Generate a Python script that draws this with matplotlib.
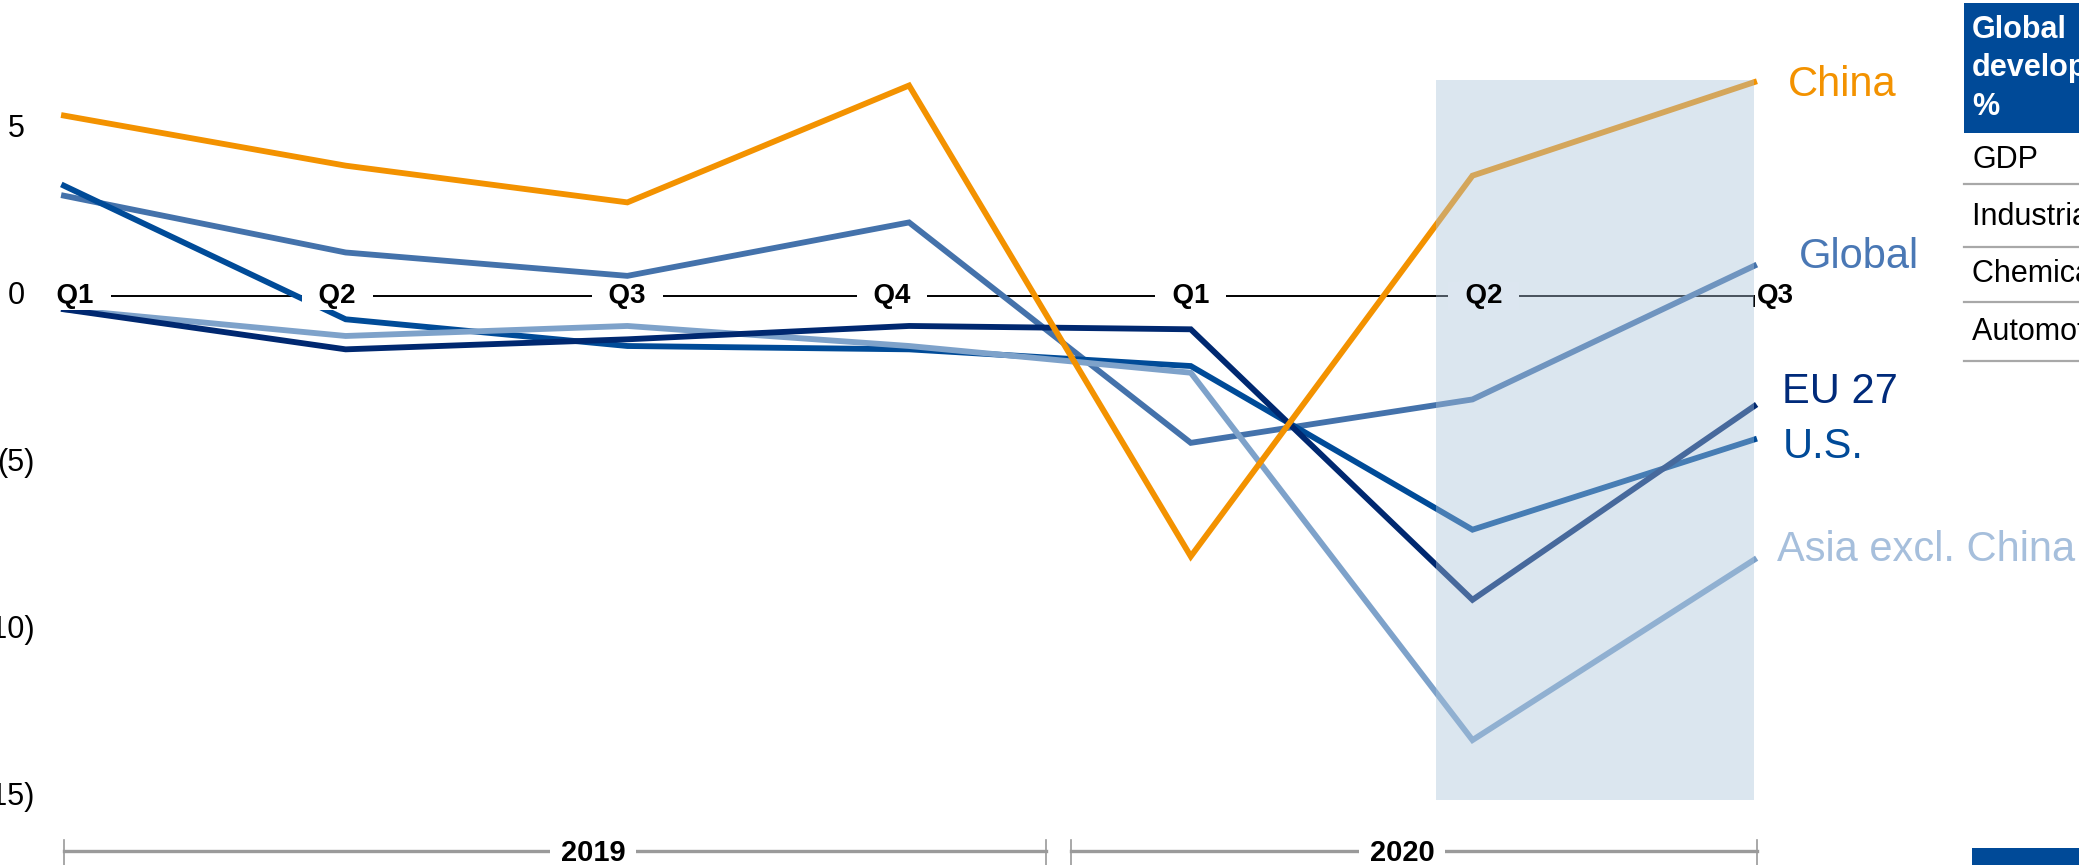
import matplotlib.pyplot as plt
from matplotlib.patches import Rectangle
import numpy as np

plt.rcParams["font.family"] = ["Liberation Sans", "DejaVu Sans"]

# data (growth vs. previous year, %)
quarters = ["Q1", "Q2", "Q3", "Q4", "Q1", "Q2", "Q3"]
years = ["2019", "2020"]
china = [5.4, 3.9, 2.8, 6.3, -7.8, 3.6, 6.4]
global_ = [3.0, 1.3, 0.6, 2.2, -4.4, -3.1, 0.9]
eu27 = [-0.4, -1.6, -1.3, -0.9, -1.0, -9.1, -3.3]
us = [3.3, -0.7, -1.5, -1.6, -2.1, -7.0, -4.3]
asia = [-0.4, -1.2, -0.9, -1.5, -2.3, -13.3, -7.9]
yticks = [5, 0, -5, -10, -15]
ytick_labels = ["5", "0", "(5)", "(10)", "(15)"]
table_rows = ["GDP", "Industrial production", "Chemical production", "Automotive production"]

W, H = 2079, 865
fig = plt.figure(figsize=(W / 100, H / 100), dpi=100)
ax = fig.add_axes([0, 0, 1, 1])
ax.axis("off")
ax.set_xlim(-0.227, 7.153)
ax.set_ylim(-17.04, 8.86)

x = np.arange(len(quarters))

# lines
series = [
    (global_, "#4472ab"),
    (us, "#004b98"),
    (asia, "#7ea2ca"),
    (eu27, "#002870"),
    (china, "#f39200"),
]
for vals, col in series:
    ax.plot(x, vals, color=col, lw=4.2, solid_joinstyle="miter", zorder=3)

# zero axis line
ax.plot([x[0], x[-1]], [0, 0], color="black", lw=1.4, zorder=2)
ax.plot([x[-1], x[-1]], [0, -0.3], color="black", lw=1.4, zorder=2)

# shaded area (drawn over the lines)
ax.add_patch(Rectangle((4.87, -15.09), x[-1] - 4.87, 6.47 + 15.09,
                       facecolor="#abc4db", alpha=0.42, edgecolor="none", zorder=4))

# quarter labels on the zero line
dx = [0.04, -0.03, 0, -0.06, 0, 0.04]
for i, q in enumerate(quarters[:-1]):
    fc = "#dce6f0" if i == 5 else "white"
    ax.text(x[i] + dx[i], 0, "  " + q + "  ", ha="center", va="center", fontsize=20,
            fontweight="bold", zorder=5,
            bbox=dict(boxstyle="square,pad=0.05", fc=fc, ec="none"))
ax.text(x[-1] + 0.01, 0, quarters[-1], ha="left", va="center", fontsize=20,
        fontweight="bold", zorder=5)

# y labels (closing parenthesis hangs to the right)
for v, lab in zip(yticks, ytick_labels):
    lx = -0.103 if lab.startswith("(") else -0.138
    ax.text(lx, v, lab, ha="right", va="center", fontsize=22, zorder=5)

# series labels
labels = [
    ("China", 6.12, 6.32, "#f39200"),
    ("Global", 6.16, 1.17, "#4a78b5"),
    ("EU 27", 6.10, -2.87, "#002a7a"),
    ("U.S.", 6.10, -4.52, "#004a98"),
    ("Asia excl. China", 6.08, -7.6, "#a6bfdc"),
]
for t, lx, ly, col in labels:
    ax.text(lx, ly, t, ha="left", va="center", fontsize=30, color=col, zorder=5)

# year brackets
yb = -16.62
brackets = [(x[0], 3.486), (3.575, x[-1] + 0.01)]
year_x = [1.878, 4.75]
for (a, b), yr, tx in zip(brackets, years, year_x):
    ax.plot([a, b], [yb, yb], color="#9a9a9a", lw=2.4, zorder=2)
    for e in (a, b):
        ax.plot([e, e], [-16.29, -17.1], color="#9a9a9a", lw=1.2, zorder=2)
    ax.text(tx, yb - 0.06, yr, ha="center", va="center", fontsize=21,
            fontweight="bold", zorder=5,
            bbox=dict(boxstyle="square,pad=0.35", fc="white", ec="none"))


# table on the right (figure pixel coordinates)
def fx(px):
    return px / W


def fy(py):
    return 1 - py / H


fig.patches.append(Rectangle((fx(1964), fy(133)), fx(W) - fx(1964), fy(3) - fy(133),
                             transform=fig.transFigure, facecolor="#004a98",
                             edgecolor="none"))
for t, py in zip(["Global", "development", "%"], [30, 68, 107]):
    fig.text(fx(1972), fy(py), t, ha="left", va="center", fontsize=22,
             fontweight="bold", color="white")
for t, py in zip(table_rows, [160, 217, 274, 332]):
    fig.text(fx(1972), fy(py), t, ha="left", va="center", fontsize=22, color="black")
for py in [184, 247, 302, 361]:
    fig.add_artist(plt.Line2D([fx(1964), 1], [fy(py), fy(py)], color="#a8a8a8",
                              lw=1.6, transform=fig.transFigure))

fig.patches.append(Rectangle((fx(1972), 0), 1 - fx(1972), fy(848),
                             transform=fig.transFigure, facecolor="#004a98",
                             edgecolor="none"))

fig.savefig("out.png", dpi=100)
